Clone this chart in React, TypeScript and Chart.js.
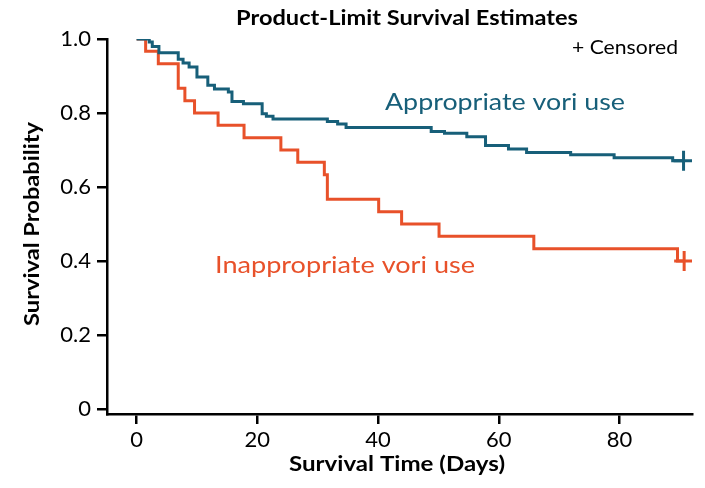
import React, { useEffect, useRef } from "react";
import { Chart, registerables } from "chart.js";

Chart.register(...registerables);

// Appropriate vori use (Kaplan-Meier step values)
const apprTimes = [0, 2.1, 2.6, 3.7, 6.9, 7.7, 8.7, 10.0, 11.8, 12.9, 15.2, 15.8, 17.7, 20.8, 21.5, 22.6, 31.6, 33.3, 34.7, 48.8, 51.0, 54.7, 57.8, 61.6, 64.6, 71.9, 79.1, 88.8, 90.6];
const apprSurv = [1.0, 0.992, 0.980, 0.963, 0.945, 0.935, 0.924, 0.897, 0.875, 0.865, 0.857, 0.831, 0.825, 0.798, 0.791, 0.784, 0.777, 0.770, 0.761, 0.750, 0.745, 0.736, 0.712, 0.703, 0.693, 0.687, 0.679, 0.671, 0.671];
const apprCensorTimes = [90.6];
const apprCensorSurv = [0.671];

// Inappropriate vori use
const inapTimes = [0, 1.5, 3.6, 6.9, 8.0, 9.6, 13.5, 17.8, 23.9, 26.7, 31.1, 31.6, 40.1, 43.9, 50.1, 65.8, 89.6, 90.7];
const inapSurv = [1.0, 0.967, 0.933, 0.867, 0.833, 0.8, 0.767, 0.733, 0.7, 0.667, 0.633, 0.567, 0.533, 0.5, 0.467, 0.433, 0.4, 0.4];
const inapCensorTimes = [90.7];
const inapCensorSurv = [0.4];

const xTicks = [0, 20, 40, 60, 80];
const yTicks = [0, 0.2, 0.4, 0.6, 0.8, 1.0];

const TEAL = "#175f79";
const RED = "#e8512a";
const FONT = "Lato, 'Open Sans', sans-serif";

function drawText(ctx: any, text: string, x: number, y: number, font: string, width: number, align: string, rotate = false) {
  ctx.save();
  ctx.font = font;
  ctx.textBaseline = "middle";
  ctx.textAlign = "left";
  const w = ctx.measureText(text).width;
  const sx = width / w;
  ctx.translate(x, y);
  if (rotate) ctx.rotate(-Math.PI / 2);
  ctx.scale(sx, 1);
  const off = align === "center" ? -w / 2 : 0;
  ctx.fillText(text, off, 0);
  ctx.restore();
}

const textPlugin = {
  id: "textPlugin",
  afterDraw(chart: any) {
    const ctx = chart.ctx;
    ctx.save();
    ctx.fillStyle = "#000";
    drawText(ctx, "Product-Limit Survival Estimates", 407, 18, `bold 21px ${FONT}`, 342, "center");
    drawText(ctx, "Survival Time (Days)", 397, 464, `bold 21px ${FONT}`, 216, "center");
    drawText(ctx, "Survival Probability", 32, 224, `bold 21px ${FONT}`, 204, "center", true);
    drawText(ctx, "+ Censored", 572, 48, `19px ${FONT}`, 106, "left");
    ctx.fillStyle = TEAL;
    drawText(ctx, "Appropriate vori use", 385, 102, `24px ${FONT}`, 240, "left");
    ctx.fillStyle = RED;
    drawText(ctx, "Inappropriate vori use", 215, 265, `24px ${FONT}`, 260, "left");
    ctx.restore();
  },
};

export default function App() {
  const ref = useRef<HTMLCanvasElement>(null);
  useEffect(() => {
    if (!ref.current) return;
    const toPts = (xs: number[], ys: number[]) => xs.map((x, i) => ({ x, y: ys[i] }));
    const chart = new Chart(ref.current, {
      type: "line",
      data: {
        datasets: [
          {
            label: "Appropriate vori use",
            data: toPts(apprTimes, apprSurv),
            borderColor: TEAL,
            borderWidth: 3,
            stepped: "before",
            pointRadius: 0,
            fill: false,
          },
          {
            label: "Inappropriate vori use",
            data: toPts(inapTimes, inapSurv),
            borderColor: RED,
            borderWidth: 3,
            stepped: "before",
            pointRadius: 0,
            fill: false,
          },
          {
            label: "Censored (appropriate)",
            data: toPts(apprCensorTimes, apprCensorSurv),
            showLine: false,
            pointStyle: "cross",
            pointRadius: 10,
            pointBorderWidth: 3,
            pointBorderColor: TEAL,
            borderColor: TEAL,
          },
          {
            label: "Censored (inappropriate)",
            data: toPts(inapCensorTimes, inapCensorSurv),
            showLine: false,
            pointStyle: "cross",
            pointRadius: 10,
            pointBorderWidth: 3,
            pointBorderColor: RED,
            borderColor: RED,
          },
        ],
      },
      options: {
        animation: false,
        responsive: false,
        maintainAspectRatio: false,
        layout: { padding: { top: 39, right: 7, left: 0, bottom: 0 } },
        plugins: { legend: { display: false }, tooltip: { enabled: false }, title: { display: false } },
        scales: {
          x: {
            type: "linear",
            min: -4.9,
            max: 92,
            afterBuildTicks: (s: any) => {
              s.ticks = xTicks.map((v) => ({ value: v }));
            },
            afterFit: (s: any) => {
              s.height = 74;
            },
            ticks: {
              color: "#000",
              font: { family: FONT, size: 22 },
              padding: 3,
              callback: (v: any) => String(v),
            },
            grid: { drawOnChartArea: false, drawTicks: true, tickLength: 10, color: "#000", lineWidth: 2.5 },
            border: { display: true, color: "#000", width: 2.5 },
          },
          y: {
            type: "linear",
            min: -0.0135,
            max: 1.0,
            afterBuildTicks: (s: any) => {
              s.ticks = yTicks.map((v) => ({ value: v }));
            },
            afterFit: (s: any) => {
              s.width = 107;
            },
            ticks: {
              color: "#000",
              font: { family: FONT, size: 22 },
              padding: 6,
              callback: (v: any) => (v === 0 ? "0" : Number(v).toFixed(1)),
            },
            grid: { drawOnChartArea: false, drawTicks: true, tickLength: 10, color: "#000", lineWidth: 2.5 },
            border: { display: true, color: "#000", width: 2.5 },
          },
        },
      },
      plugins: [textPlugin],
    });
    return () => chart.destroy();
  }, []);
  return (
    <div style={{ position: "fixed", left: 0, top: 0, width: 705, height: 488, background: "#fff" }}>
      <canvas ref={ref} width={705} height={488} style={{ width: 705, height: 488, display: "block" }} />
    </div>
  );
}
